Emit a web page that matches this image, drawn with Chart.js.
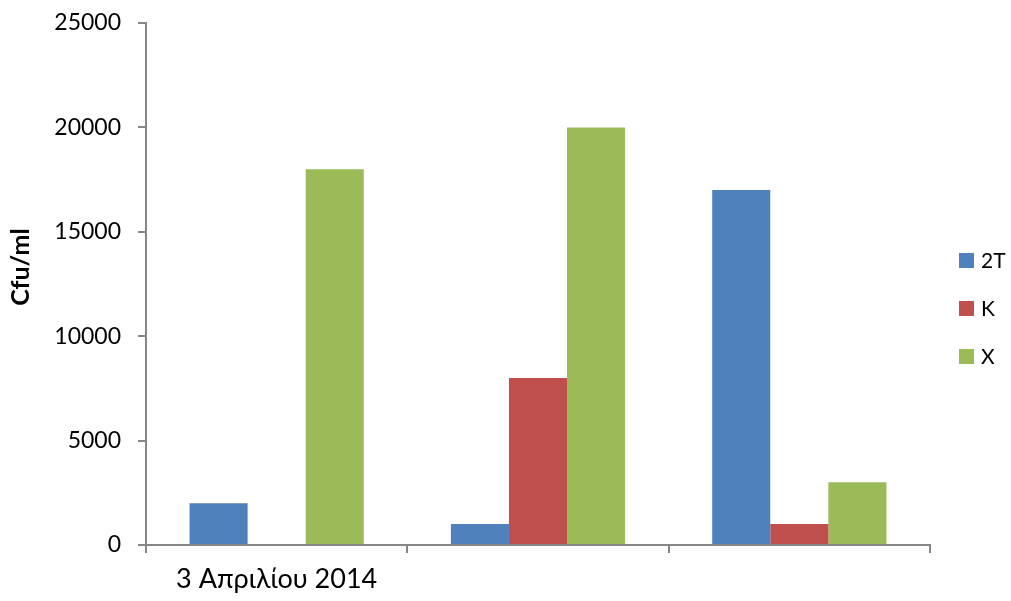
<!DOCTYPE html>
<html>
<head>
<meta charset="utf-8">
<script src="https://cdn.jsdelivr.net/npm/chart.js@4/dist/chart.umd.min.js"></script>
<style>
  html, body { margin: 0; padding: 0; background: #fff; }
  #wrap { width: 1011px; height: 601px; }
</style>
</head>
<body>
<div id="wrap"><canvas id="c" width="1011" height="601"></canvas></div>
<script>
// Sampling dates (only the first one is labelled on the axis)
const categories = ['3 Απριλίου 2014', '', ''];

// Colony counts per sample, Cfu/ml
const series2T = [2000, 1000, 17000];
const seriesK  = [0, 8000, 1000];
const seriesX  = [18000, 20000, 3000];

const seriesNames = ['2T', 'K', 'X'];
const seriesColors = ['#4F81BD', '#C0504D', '#9BBB59'];

const yTicks = [0, 5000, 10000, 15000, 20000, 25000];
const yTitle = 'Cfu/ml';

const FONT = "Lato, 'Open Sans', sans-serif";
const AXIS_GREY = '#868686';

// Vertical legend to the right of the plot, plus the rotated value-axis title
const sideDecor = {
  id: 'sideDecor',
  afterDraw(chart) {
    const { ctx, chartArea } = chart;
    ctx.save();

    // axis title
    ctx.font = 'bold 25px ' + FONT;
    ctx.fillStyle = '#000';
    ctx.textAlign = 'center';
    ctx.textBaseline = 'middle';
    ctx.translate(21, 267);
    ctx.rotate(-Math.PI / 2);
    ctx.fillText(yTitle, 0, 0);
    ctx.setTransform(1, 0, 0, 1, 0, 0);

    // legend
    const x0 = chartArea.right + 29;
    const yStart = 260;
    const step = 48;
    ctx.font = '21px ' + FONT;
    ctx.textBaseline = 'middle';
    ctx.textAlign = 'left';
    chart.data.datasets.forEach((ds, i) => {
      const cy = yStart + i * step;
      ctx.fillStyle = ds.backgroundColor;
      ctx.fillRect(x0, cy - 7, 15, 15);
      ctx.fillStyle = '#000';
      ctx.fillText(ds.label, x0 + 22, cy + 1);
    });
    ctx.restore();
  }
};

const seriesData = [series2T, seriesK, seriesX];

new Chart(document.getElementById('c'), {
  type: 'bar',
  data: {
    labels: categories,
    datasets: seriesData.map((d, i) => ({
      label: seriesNames[i],
      data: d,
      backgroundColor: seriesColors[i],
      borderWidth: 0,
      categoryPercentage: 3 / 4.5,
      barPercentage: 1
    }))
  },
  options: {
    responsive: false,
    animation: false,
    layout: { padding: { left: 0, right: 81, top: 23, bottom: 0 } },
    plugins: {
      legend: { display: false },
      tooltip: { enabled: false }
    },
    scales: {
      x: {
        grid: {
          offset: true,
          drawOnChartArea: false,
          drawTicks: true,
          tickLength: 8,
          tickColor: AXIS_GREY,
          lineWidth: 2
        },
        border: { display: true, color: AXIS_GREY, width: 2 },
        ticks: {
          color: '#000',
          font: { family: FONT, size: 27 },
          padding: 10,
          maxRotation: 0,
          autoSkip: false
        },
        afterFit(scale) {
          scale.height = 601 - 545;
          scale.paddingLeft = 0;
          scale.paddingRight = 0;
        }
      },
      y: {
        min: 0,
        max: 25000,
        afterBuildTicks(scale) { scale.ticks = yTicks.map(v => ({ value: v })); },
        grid: {
          drawOnChartArea: false,
          drawTicks: true,
          tickLength: 8,
          tickColor: AXIS_GREY,
          lineWidth: 2
        },
        border: { display: true, color: AXIS_GREY, width: 2 },
        ticks: {
          color: '#000',
          font: { family: FONT, size: 23 },
          padding: 17,
          callback: v => String(v)
        },
        afterFit(scale) {
          scale.width = 146;
          scale.paddingTop = 0;
          scale.paddingBottom = 0;
        }
      }
    }
  },
  plugins: [sideDecor]
});
</script>
</body>
</html>
